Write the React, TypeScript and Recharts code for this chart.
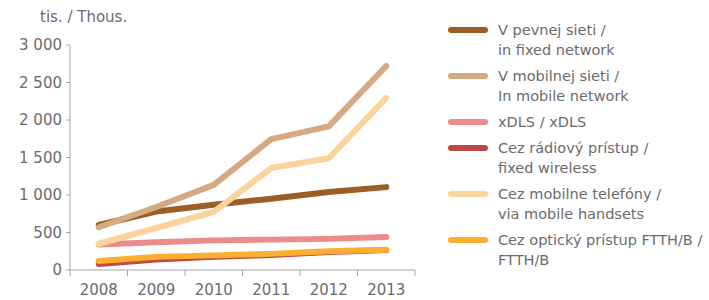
import { LineChart, Line, XAxis, YAxis } from "recharts";

const years = ["2008", "2009", "2010", "2011", "2012", "2013"];
const fixedNet = [600, 780, 870, 950, 1040, 1105];
const mobileNet = [570, 840, 1135, 1745, 1915, 2720];
const xdsl = [340, 370, 395, 405, 415, 440];
const radio = [80, 140, 175, 200, 240, 265];
const handsets = [350, 560, 775, 1360, 1490, 2295];
const ftth = [120, 175, 195, 215, 250, 270];
const yTicks = [0, 500, 1000, 1500, 2000, 2500, 3000];

const series = [
  { key: "fixedNet", values: fixedNet, color: "#9C5E27", label: ["V pevnej sieti /", "in fixed network"] },
  { key: "mobileNet", values: mobileNet, color: "#D5A982", label: ["V mobilnej sieti /", "In mobile network"] },
  { key: "xdsl", values: xdsl, color: "#EC8B8B", label: ["xDLS / xDLS"] },
  { key: "radio", values: radio, color: "#BF4A45", label: ["Cez rádiový prístup /", "fixed wireless"] },
  { key: "handsets", values: handsets, color: "#FBD39C", label: ["Cez mobilne telefóny /", "via mobile handsets"] },
  { key: "ftth", values: ftth, color: "#FBAE2F", label: ["Cez optický prístup FTTH/B /", "FTTH/B"] },
];

const data = years.map((y, i) => {
  const row: Record<string, number | string> = { year: y, x: i + 0.5 };
  series.forEach((s) => (row[s.key] = s.values[i]));
  return row;
});

const textColor = "#6B6B6B";
const font = "'DejaVu Sans', Verdana, sans-serif";

const fmt = (v: number) => (v >= 1000 ? `${Math.floor(v / 1000)} ${String(v % 1000).padStart(3, "0")}` : String(v));

// year labels sit in the middle of each band, tick marks on the band edges
function YearTick(props: any) {
  const { x, y, payload } = props;
  const idx = payload.value;
  if (idx >= years.length) return null;
  const half = 345 / years.length / 2;
  return (
    <text x={x + half} y={y + 17} textAnchor="middle" fill={textColor} fontSize={15} fontFamily={font}>
      {years[idx]}
    </text>
  );
}

function LegendList() {
  return (
    <div style={{ fontFamily: font, fontSize: 14.5, color: textColor }}>
      {series.map((s) => (
        <div key={s.key} style={{ display: "flex", marginBottom: 6 }}>
          <div style={{ width: 40, height: 20, display: "flex", alignItems: "center", marginRight: 10 }}>
            <div style={{ width: 40, height: 6, borderRadius: 3, background: s.color }} />
          </div>
          <div style={{ lineHeight: "20px", whiteSpace: "nowrap" }}>
            {s.label.map((l) => (
              <div key={l}>{l}</div>
            ))}
          </div>
        </div>
      ))}
    </div>
  );
}

export default function App() {
  return (
    <div style={{ position: "absolute", left: 0, top: 0, width: 709, height: 300, background: "#fff" }}>
      <div style={{ position: "absolute", left: 40, top: 8, fontFamily: font, fontSize: 15, color: textColor }}>
        tis. / Thous.
      </div>
      <div style={{ position: "absolute", left: 448, top: 20 }}>
        <LegendList />
      </div>
      <LineChart width={709} height={300} data={data} margin={{ top: 45, right: 294, left: 0, bottom: 0 }}>
        <XAxis
          dataKey="x"
          type="number"
          domain={[0, 6]}
          ticks={[0, 1, 2, 3, 4, 5, 6]}
          height={30}
          stroke="#A6A6A6"
          tickSize={6}
          tick={<YearTick />}
          interval={0}
        />
        <YAxis
          domain={[0, 3000]}
          ticks={yTicks}
          width={70}
          stroke="#A6A6A6"
          tickSize={4}
          tickMargin={4}
          tickFormatter={fmt}
          tick={{ fill: textColor, fontSize: 15, fontFamily: font }}
          interval={0}
        />
        {series.map((s) => (
          <Line
            key={s.key}
            dataKey={s.key}
            name={s.label.join(" ")}
            stroke={s.color}
            strokeWidth={6}
            strokeLinecap="round"
            strokeLinejoin="round"
            dot={false}
            activeDot={false}
            isAnimationActive={false}
          />
        ))}
      </LineChart>
    </div>
  );
}
